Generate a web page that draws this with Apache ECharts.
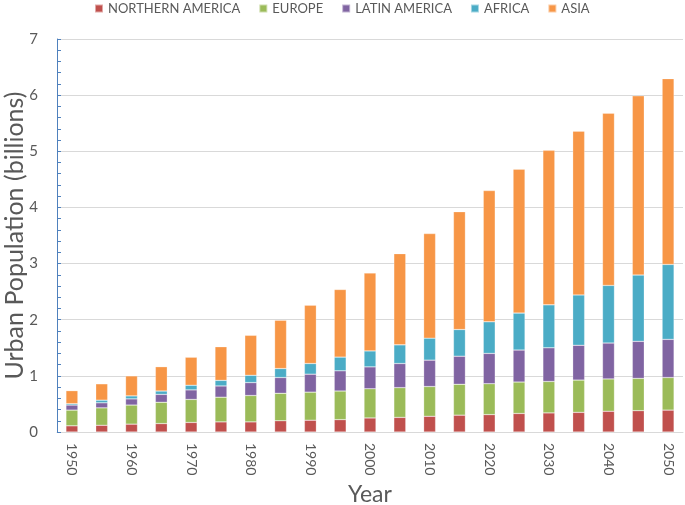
<!DOCTYPE html>
<html><head><meta charset="utf-8">
<script src="https://cdn.jsdelivr.net/npm/echarts@6/dist/echarts.min.js"></script>
<style>html,body{margin:0;padding:0;background:#fff}#c{width:685px;height:505px}</style>
</head><body><div id="c"></div>
<script>
const years = ['1950','1955','1960','1965','1970','1975','1980','1985','1990','1995','2000','2005','2010','2015','2020','2025','2030','2035','2040','2045','2050'];
const northernAmerica = [0.11,0.12,0.14,0.15,0.17,0.18,0.18,0.20,0.21,0.22,0.25,0.26,0.28,0.30,0.31,0.33,0.34,0.35,0.37,0.38,0.39];
const europe = [0.28,0.31,0.34,0.38,0.41,0.44,0.47,0.49,0.50,0.51,0.52,0.53,0.53,0.55,0.55,0.56,0.56,0.575,0.575,0.575,0.58];
const latinAmerica = [0.09,0.09,0.11,0.14,0.17,0.20,0.23,0.28,0.32,0.36,0.39,0.43,0.47,0.50,0.54,0.57,0.60,0.62,0.64,0.66,0.68];
const africa = [0.024,0.047,0.053,0.06,0.083,0.10,0.13,0.16,0.19,0.244,0.284,0.332,0.392,0.475,0.563,0.658,0.765,0.896,1.026,1.181,1.334];
const asia = [0.232,0.291,0.356,0.433,0.499,0.599,0.712,0.86,1.038,1.204,1.388,1.625,1.862,2.099,2.337,2.563,2.752,2.918,3.066,3.191,3.31];
const yTicks = [0,1,2,3,4,5,6,7];

const FONT = 'Lato';
const names = ['NORTHERN AMERICA','EUROPE','LATIN AMERICA','AFRICA','ASIA'];
const colors = ['#C0504D','#9BBB59','#8064A2','#4BACC6','#F79646'];
const data = [northernAmerica, europe, latinAmerica, africa, asia];

const chart = echarts.init(document.getElementById('c'), null, {renderer:'canvas'});
chart.setOption({
  animation:false,
  color: colors,
  textStyle:{fontFamily:FONT},
  legend:{
    top:-3, left:89, itemWidth:8, itemHeight:8, itemGap:18,
    icon:'rect',
    textStyle:{fontFamily:FONT, fontSize:13, color:'#595959'},
    data:names
  },
  grid:{left:57, right:2, top:39, bottom:73, containLabel:false, outerBoundsMode:'none'},
  xAxis:{
    type:'category', data:years,
    name:'Year', nameLocation:'middle', nameGap:50,
    nameTextStyle:{fontFamily:FONT, fontSize:23, color:'#595959'},
    axisLine:{lineStyle:{color:'#D9D9D9', width:1}},
    axisTick:{show:false},
    axisLabel:{interval:1, rotate:-90, margin:11, fontSize:14, color:'#595959', fontFamily:FONT}
  },
  yAxis:{
    type:'value', min:yTicks[0], max:yTicks[yTicks.length-1], interval:1,
    name:'Urban Population (billions)', nameLocation:'middle', nameGap:30, nameMoveOverlap:false,
    nameTextStyle:{fontFamily:FONT, fontSize:25, color:'#595959'},
    axisLine:{show:true, lineStyle:{color:'#4F81BD', width:1}},
    axisTick:{show:true, inside:true, length:4, lineStyle:{color:'#4F81BD'}},
    minorTick:{show:true, splitNumber:5, length:4, lineStyle:{color:'#4F81BD'}},
    axisLabel:{fontSize:15, color:'#595959', margin:19, fontFamily:FONT},
    splitLine:{lineStyle:{color:'#D9D9D9', width:1}}
  },
  series: names.map((n,i)=>({
    name:n, type:'bar', stack:'total', data:data[i], barWidth:'40%',
    itemStyle:{color:colors[i], borderColor:'rgba(255,255,255,0.5)', borderWidth:0.5}
  }))
});
</script></body></html>
